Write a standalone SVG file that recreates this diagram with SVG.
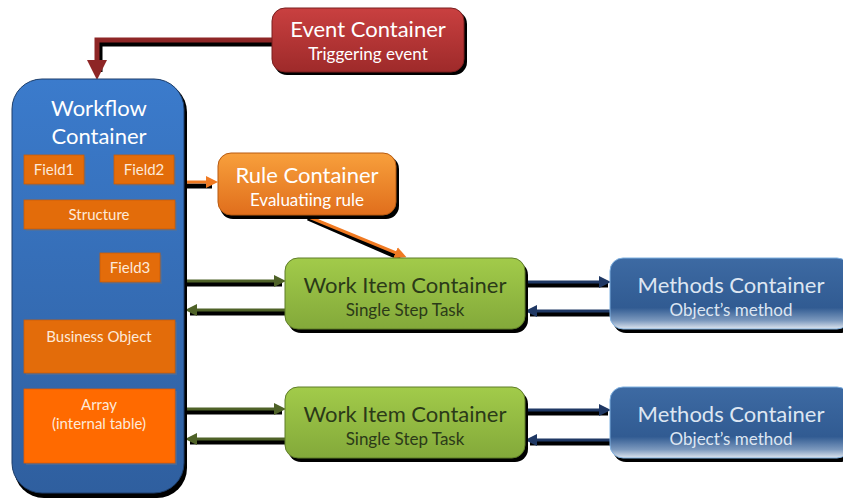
<svg xmlns="http://www.w3.org/2000/svg" width="843" height="498" viewBox="0 0 843 498">
<defs>
<linearGradient id="gRed" x1="0" y1="0" x2="0" y2="1"><stop offset="0" stop-color="#c94040"/><stop offset="1" stop-color="#9e2a2a"/></linearGradient>
<linearGradient id="gBlue" x1="0" y1="0" x2="0" y2="1"><stop offset="0" stop-color="#3b7bcc"/><stop offset="1" stop-color="#2f5f9f"/></linearGradient>
<linearGradient id="gOrange" x1="0" y1="0" x2="0" y2="1"><stop offset="0" stop-color="#f8a03c"/><stop offset="1" stop-color="#e06e1c"/></linearGradient>
<linearGradient id="gGreen" x1="0" y1="0" x2="0" y2="1"><stop offset="0" stop-color="#a2cb4a"/><stop offset="1" stop-color="#83a93a"/></linearGradient>
<linearGradient id="gMeth" x1="0" y1="0" x2="0" y2="1"><stop offset="0" stop-color="#3d6aa3"/><stop offset="0.7" stop-color="#315b92"/><stop offset="0.88" stop-color="#7b98bd"/><stop offset="1" stop-color="#dfe6ef"/></linearGradient>
<marker id="aRed" markerWidth="4" markerHeight="4" refX="2" refY="2" orient="auto" markerUnits="strokeWidth"><path d="M0,0 L4,2 L0,4 z" fill="#8e2626"/></marker>
<marker id="aOr" markerWidth="4" markerHeight="4" refX="2" refY="2" orient="auto" markerUnits="strokeWidth"><path d="M0,0 L4,2 L0,4 z" fill="#f07a22"/></marker>
<marker id="aGr" markerWidth="4" markerHeight="4" refX="2" refY="2" orient="auto" markerUnits="strokeWidth"><path d="M0,0 L4,2 L0,4 z" fill="#4f6228"/></marker>
<marker id="aNv" markerWidth="4" markerHeight="4" refX="2" refY="2" orient="auto" markerUnits="strokeWidth"><path d="M0,0 L4,2 L0,4 z" fill="#1f3864"/></marker>
</defs>
<style>
text{font-family:Lato,"Liberation Sans",sans-serif;text-anchor:middle}
.t{font-size:22px;fill:#ffffff}
.s{font-size:17px;fill:#ffffff}
.tg{font-size:22px;fill:#2b3a18}
.sg{font-size:17px;fill:#2b3a18}
.tm{font-size:22px;fill:#dde6f2}
.sm{font-size:17px;fill:#dde6f2}
.f{font-size:15px;fill:#fde9d9}
.sh{fill:#000}
.fsh{fill:#5a6f8f;opacity:0.6}
.fld{fill:#e36c0a;stroke:#c85c08;stroke-width:0.8}
.shl{stroke:#000;fill:none;stroke-width:5}
</style>
<g id="connectors">
<path d="M273,44 H100 V72" class="shl"/>
<path d="M273,40 H97 V70" stroke="#8e2626" stroke-width="5" fill="none" marker-end="url(#aRed)"/>
<line x1="185" y1="186" x2="212" y2="186" class="shl" stroke-width="4"/>
<line x1="185" y1="182" x2="212" y2="182" stroke="#f07a22" stroke-width="3" marker-end="url(#aOr)"/>
<line x1="308" y1="218" x2="400" y2="258" class="shl" stroke-width="4"/>
<line x1="304" y1="215" x2="401" y2="255" stroke="#f07a22" stroke-width="3" marker-end="url(#aOr)"/>
<line x1="185" y1="284" x2="282" y2="284" class="shl" stroke-width="4"/>
<line x1="185" y1="281" x2="280" y2="281" stroke="#4f6228" stroke-width="3" marker-end="url(#aGr)"/>
<line x1="286" y1="313" x2="190" y2="313" class="shl" stroke-width="4"/>
<line x1="286" y1="310" x2="191" y2="310" stroke="#4f6228" stroke-width="3" marker-end="url(#aGr)"/>
<line x1="525" y1="285" x2="608" y2="285" class="shl" stroke-width="4"/>
<line x1="525" y1="282" x2="605" y2="282" stroke="#1f3864" stroke-width="3" marker-end="url(#aNv)"/>
<line x1="611" y1="314" x2="530" y2="314" class="shl" stroke-width="4"/>
<line x1="611" y1="311" x2="531" y2="311" stroke="#1f3864" stroke-width="3" marker-end="url(#aNv)"/>
<line x1="185" y1="412" x2="282" y2="412" class="shl" stroke-width="4"/>
<line x1="185" y1="409" x2="280" y2="409" stroke="#4f6228" stroke-width="3" marker-end="url(#aGr)"/>
<line x1="286" y1="442" x2="190" y2="442" class="shl" stroke-width="4"/>
<line x1="286" y1="439" x2="191" y2="439" stroke="#4f6228" stroke-width="3" marker-end="url(#aGr)"/>
<line x1="525" y1="413" x2="608" y2="413" class="shl" stroke-width="4"/>
<line x1="525" y1="410" x2="605" y2="410" stroke="#1f3864" stroke-width="3" marker-end="url(#aNv)"/>
<line x1="611" y1="443" x2="530" y2="443" class="shl" stroke-width="4"/>
<line x1="611" y1="440" x2="531" y2="440" stroke="#1f3864" stroke-width="3" marker-end="url(#aNv)"/>
</g>
<g id="event">
<rect x="274" y="11" width="193" height="64" rx="13" class="sh"/>
<rect x="272" y="8" width="192" height="64" rx="13" fill="url(#gRed)" stroke="#7a1e1e" stroke-width="1"/>
<text x="368" y="37" class="t">Event Container</text>
<text x="368" y="60" class="s">Triggering event</text>
</g>
<g id="workflow">
<rect x="14" y="82" width="173" height="416" rx="30" class="sh"/>
<rect x="12" y="79" width="172" height="414" rx="30" fill="url(#gBlue)" stroke="#1c3d6a" stroke-width="1"/>
<text x="99" y="116" class="t">Workflow</text>
<text x="99" y="144" class="t">Container</text>
</g>
<g id="field1">
<rect x="26" y="157" width="60" height="29" class="fsh"/>
<rect x="24" y="155" width="60" height="29" class="fld"/>
<text x="54" y="175" class="f">Field1</text>
</g>
<g id="field2">
<rect x="116" y="157" width="60" height="29" class="fsh"/>
<rect x="114" y="155" width="60" height="29" class="fld"/>
<text x="144" y="175" class="f">Field2</text>
</g>
<g id="structure">
<rect x="26" y="202" width="151" height="29" class="fsh"/>
<rect x="24" y="200" width="151" height="29" class="fld"/>
<text x="99" y="220" class="f">Structure</text>
</g>
<g id="field3">
<rect x="102" y="255" width="60" height="29" class="fsh"/>
<rect x="100" y="253" width="60" height="29" class="fld"/>
<text x="130" y="273" class="f">Field3</text>
</g>
<g id="business-object">
<rect x="26" y="322" width="151" height="53" class="fsh"/>
<rect x="24" y="320" width="151" height="53" class="fld"/>
<text x="99" y="342" class="f">Business Object</text>
</g>
<g id="array">
<rect x="26" y="391" width="151" height="74" class="fsh"/>
<rect x="24" y="389" width="151" height="74" fill="#ff6a00" stroke="#e05a00" stroke-width="0.8"/>
<text x="99" y="410" class="f">Array</text>
<text x="99" y="429" class="f">(internal table)</text>
</g>
<g id="rule">
<rect x="220" y="156" width="179" height="63" rx="13" class="sh"/>
<rect x="218" y="153" width="178" height="62" rx="13" fill="url(#gOrange)" stroke="#b85a10" stroke-width="1"/>
<text x="307" y="183" class="t">Rule Container</text>
<text x="307" y="206" class="s">Evaluatiing rule</text>
</g>
<g id="workitem1">
<rect x="288" y="262" width="240" height="71" rx="13" class="sh"/>
<rect x="285" y="258" width="240" height="71" rx="13" fill="url(#gGreen)" stroke="#5f7d28" stroke-width="1"/>
<text x="405" y="293" class="tg">Work Item Container</text>
<text x="405" y="316" class="sg">Single Step Task</text>
</g>
<g id="methods1">
<rect x="613" y="262" width="240" height="71" rx="13" class="sh"/>
<rect x="610" y="258" width="240" height="71" rx="13" fill="url(#gMeth)" stroke="#7fb0e0" stroke-width="1"/>
<text x="731" y="293" class="tm">Methods Container</text>
<text x="731" y="316" class="sm">Object’s method</text>
</g>
<g id="workitem2">
<rect x="288" y="391" width="240" height="71" rx="13" class="sh"/>
<rect x="285" y="387" width="240" height="71" rx="13" fill="url(#gGreen)" stroke="#5f7d28" stroke-width="1"/>
<text x="405" y="422" class="tg">Work Item Container</text>
<text x="405" y="445" class="sg">Single Step Task</text>
</g>
<g id="methods2">
<rect x="613" y="391" width="240" height="71" rx="13" class="sh"/>
<rect x="610" y="387" width="240" height="71" rx="13" fill="url(#gMeth)" stroke="#7fb0e0" stroke-width="1"/>
<text x="731" y="422" class="tm">Methods Container</text>
<text x="731" y="445" class="sm">Object’s method</text>
</g>
</svg>
